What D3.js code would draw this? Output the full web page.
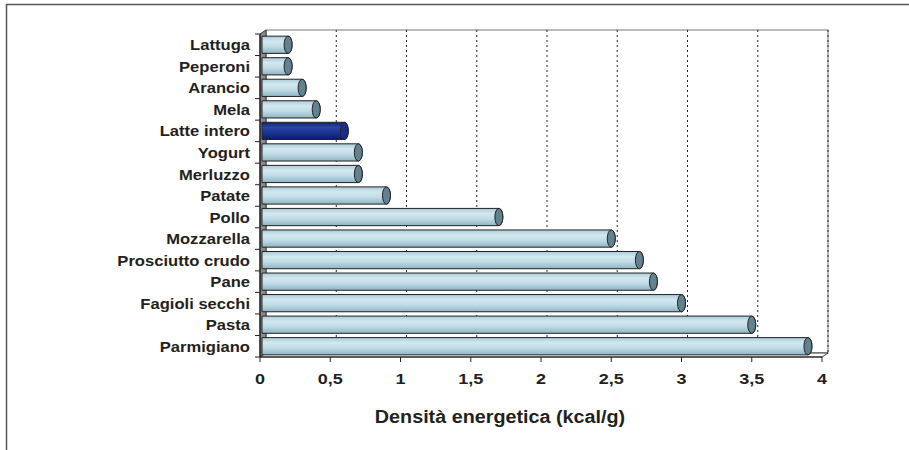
<!DOCTYPE html>
<html lang="it">
<head>
<meta charset="UTF-8">
<title>Densità energetica</title>
<script src="https://cdn.jsdelivr.net/npm/d3@7"></script>
<style>
  body { margin: 0; background: #fff; }
  text { font-family: "Liberation Sans", Arial, sans-serif; font-weight: bold; fill: #231f20; }
</style>
</head>
<body>
<svg id="chart" width="909" height="450"></svg>
<script>
// data
var foods = ["Lattuga", "Peperoni", "Arancio", "Mela", "Latte intero", "Yogurt", "Merluzzo",
             "Patate", "Pollo", "Mozzarella", "Prosciutto crudo", "Pane", "Fagioli secchi",
             "Pasta", "Parmigiano"];
var density = [0.2, 0.2, 0.3, 0.4, 0.6, 0.7, 0.7, 0.9, 1.7, 2.5, 2.7, 2.8, 3.0, 3.5, 3.9];
var highlighted = ["Latte intero"];
var xTicks = [0, 0.5, 1, 1.5, 2, 2.5, 3, 3.5, 4];
var xTickLabels = ["0", "0,5", "1", "1,5", "2", "2,5", "3", "3,5", "4"];
var xTitle = "Densità energetica (kcal/g)";

var svg = d3.select("#chart");
var dx = 6, dy = -4;   // 3d depth offset

var x = d3.scaleLinear().domain([0, 4]).range([260, 822]);
var y = d3.scaleBand().domain(foods).range([34, 357]).paddingInner(0.2).paddingOuter(0.1);
var yEdge = d3.scaleBand().domain(foods).range([34, 357]);

// outer frame
svg.append("path")
  .attr("d", "M6.5,450 L6.5,4.5 L909,4.5")
  .attr("fill", "none").attr("stroke", "#555").attr("stroke-width", 1.5);

// gradients
var defs = svg.append("defs");
function grad(id, stops) {
  var g = defs.append("linearGradient").attr("id", id)
    .attr("x1", 0).attr("y1", 0).attr("x2", 0).attr("y2", 1);
  stops.forEach(function(s) { g.append("stop").attr("offset", s[0]).attr("stop-color", s[1]); });
}
grad("gLight", [[0, "#aacbd8"], [0.3, "#d3e8f0"], [0.6, "#c0dce6"], [1, "#8fb4c3"]]);
grad("gDark", [[0, "#10237a"], [0.3, "#2a44a8"], [0.6, "#1c3592"], [1, "#0b1a66"]]);

var x0 = x(0), x4 = x(4), yTop = 34, yBot = 357;

// back wall
svg.append("rect")
  .attr("x", x0 + dx).attr("y", yTop + dy)
  .attr("width", x4 - x0).attr("height", yBot - yTop)
  .attr("fill", "#fff").attr("stroke", "#777").attr("stroke-width", 1);

// dotted gridlines on the back wall
svg.append("g").selectAll("line")
  .data(xTicks.filter(function(t) { return t > 0; }))
  .join("line")
  .attr("x1", function(d) { return x(d) + dx; })
  .attr("x2", function(d) { return x(d) + dx; })
  .attr("y1", yTop + dy).attr("y2", yBot + dy)
  .attr("stroke", function(d) { return d === 4 ? "#555" : "#222"; })
  .attr("stroke-width", function(d) { return d === 4 ? 1.5 : 1; })
  .attr("stroke-dasharray", "2,3");

// left wall
svg.append("path")
  .attr("d", "M" + x0 + "," + yBot + " L" + (x0 + dx) + "," + (yBot + dy) +
             " L" + (x0 + dx) + "," + (yTop + dy) + " L" + x0 + "," + yTop + " Z")
  .attr("fill", "#8c8c8c").attr("stroke", "#333").attr("stroke-width", 1);

// floor
svg.append("path")
  .attr("d", "M" + x0 + "," + yBot + " L" + x4 + "," + yBot + " L" + (x4 + dx) + "," + (yBot + dy) +
             " L" + (x0 + dx) + "," + (yBot + dy) + " Z")
  .attr("fill", "#fff").attr("stroke", "#333").attr("stroke-width", 1);

// bars as horizontal cylinders
var rows = foods.map(function(f, i) { return { name: f, value: density[i] }; });
var bars = svg.append("g").selectAll("g").data(rows).join("g");
var bh = y.bandwidth();
var rx = 4;

bars.append("path")
  .attr("d", function(d) {
    var xs = x0 + 2, xe = x(d.value), yt = y(d.name), yb = yt + bh;
    return "M" + xs + "," + yt + " L" + xe + "," + yt +
           " A" + rx + "," + (bh / 2) + " 0 0 1 " + xe + "," + yb +
           " L" + xs + "," + yb + " Z";
  })
  .attr("fill", function(d) { return highlighted.indexOf(d.name) >= 0 ? "url(#gDark)" : "url(#gLight)"; })
  .attr("stroke", "#222").attr("stroke-width", 1);

bars.append("ellipse")
  .attr("cx", function(d) { return x(d.value); })
  .attr("cy", function(d) { return y(d.name) + bh / 2; })
  .attr("rx", rx).attr("ry", bh / 2)
  .attr("fill", function(d) { return highlighted.indexOf(d.name) >= 0 ? "#1a2d8a" : "#62828f"; })
  .attr("stroke", "#222").attr("stroke-width", 1);

// left axis
var yAxis = svg.append("g");
yAxis.append("line")
  .attr("x1", x0).attr("x2", x0).attr("y1", yTop).attr("y2", yBot)
  .attr("stroke", "#222").attr("stroke-width", 1.2);
yAxis.selectAll("line.tick")
  .data(foods.concat(["_end"]))
  .join("line").attr("class", "tick")
  .attr("x1", x0 - 5).attr("x2", x0)
  .attr("y1", function(d, i) { return i < foods.length ? yEdge(d) : yBot; })
  .attr("y2", function(d, i) { return i < foods.length ? yEdge(d) : yBot; })
  .attr("stroke", "#222");
yAxis.selectAll("text")
  .data(foods)
  .join("text")
  .attr("transform", function(d) {
    return "translate(250," + (yEdge(d) + yEdge.bandwidth() / 2) + ") scale(1.07,1)";
  })
  .attr("dy", "0.36em")
  .attr("text-anchor", "end")
  .attr("font-size", 15.5)
  .text(function(d) { return d; });

// bottom axis
var xAxis = svg.append("g");
xAxis.append("line")
  .attr("x1", x0).attr("x2", x4).attr("y1", yBot).attr("y2", yBot)
  .attr("stroke", "#222").attr("stroke-width", 1.2);
xAxis.selectAll("line.tick")
  .data(xTicks)
  .join("line").attr("class", "tick")
  .attr("x1", function(d) { return x(d); }).attr("x2", function(d) { return x(d); })
  .attr("y1", yBot).attr("y2", yBot + 5)
  .attr("stroke", "#222");
xAxis.selectAll("text")
  .data(xTicks)
  .join("text")
  .attr("transform", function(d) { return "translate(" + x(d) + ",384) scale(1.2,1)"; })
  .attr("text-anchor", "middle")
  .attr("font-size", 15)
  .text(function(d, i) { return xTickLabels[i]; });

svg.append("text")
  .attr("transform", "translate(500,423) scale(1.13,1)")
  .attr("text-anchor", "middle")
  .attr("font-size", 17.5)
  .text(xTitle);
</script>
</body>
</html>
